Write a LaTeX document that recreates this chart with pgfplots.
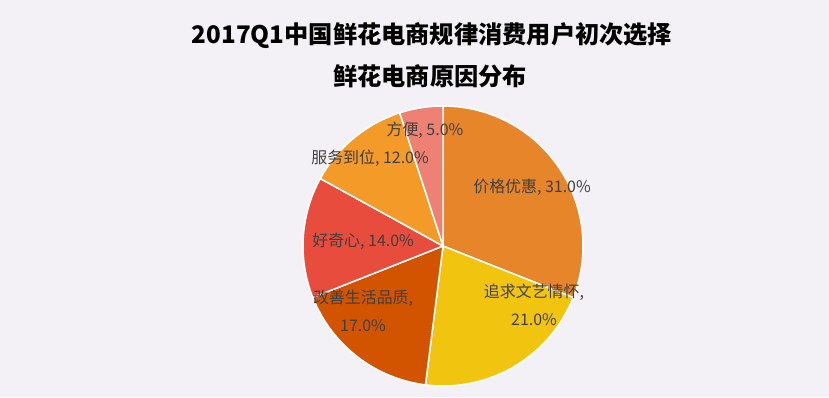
\documentclass[border=0pt]{standalone}
\usepackage{pgfplots}
\pgfplotsset{compat=1.18}
\usepackage{fontspec}
\setmainfont{Noto Sans CJK SC}
\definecolor{bgc}{HTML}{F3F1F5}
\definecolor{cA}{HTML}{E6852A}
\definecolor{cB}{HTML}{F1C40F}
\definecolor{cC}{HTML}{D35400}
\definecolor{cD}{HTML}{E74C3C}
\definecolor{cE}{HTML}{F39A28}
\definecolor{cF}{HTML}{EE8074}
\definecolor{lbl}{HTML}{404040}
\tikzset{plbl/.style={text=lbl, font=\fontsize{16}{28}\selectfont, align=center}}
\begin{document}
\begin{tikzpicture}[x=1bp,y=1bp]
\fill[bgc] (0,0) rectangle (829,397);
\node[font=\bfseries\fontsize{24.3}{28}\selectfont] at (432,361) {2017Q1中国鲜花电商规律消费用户初次选择};
\node[font=\bfseries\fontsize{24.3}{28}\selectfont] at (430,321) {鲜花电商原因分布};
\begin{axis}[at={(443bp,151bp)}, anchor=center, scale only axis,
  width=280bp, height=280bp, xmin=-1, xmax=1, ymin=-1, ymax=1,
  hide axis, clip=false]
% slices: 31, 21, 17, 14, 12, 5 percent, clockwise from top
\addplot[fill=cA, draw=white, line width=1.5bp, domain=90:-21.6, samples=60] ({cos(x)},{sin(x)}) -- (axis cs:0,0) -- cycle;
\addplot[fill=cB, draw=white, line width=1.5bp, domain=-21.6:-97.2, samples=60] ({cos(x)},{sin(x)}) -- (axis cs:0,0) -- cycle;
\addplot[fill=cC, draw=white, line width=1.5bp, domain=-97.2:-158.4, samples=60] ({cos(x)},{sin(x)}) -- (axis cs:0,0) -- cycle;
\addplot[fill=cD, draw=white, line width=1.5bp, domain=-158.4:-208.8, samples=60] ({cos(x)},{sin(x)}) -- (axis cs:0,0) -- cycle;
\addplot[fill=cE, draw=white, line width=1.5bp, domain=-208.8:-252, samples=60] ({cos(x)},{sin(x)}) -- (axis cs:0,0) -- cycle;
\addplot[fill=cF, draw=white, line width=1.5bp, domain=-252:-270, samples=30] ({cos(x)},{sin(x)}) -- (axis cs:0,0) -- cycle;
\node[plbl] at (axis cs:0.636,0.421) {价格优惠, 31.0\%};
\node[plbl] at (axis cs:0.65,-0.421) {追求文艺情怀,\\21.0\%};
\node[plbl] at (axis cs:-0.571,-0.464) {改善生活品质,\\17.0\%};
\node[plbl] at (axis cs:-0.571,0.036) {好奇心, 14.0\%};
\node[plbl] at (axis cs:-0.521,0.629) {服务到位, 12.0\%};
\node[plbl] at (axis cs:-0.129,0.829) {方便, 5.0\%};
\end{axis}
\end{tikzpicture}
\end{document}
